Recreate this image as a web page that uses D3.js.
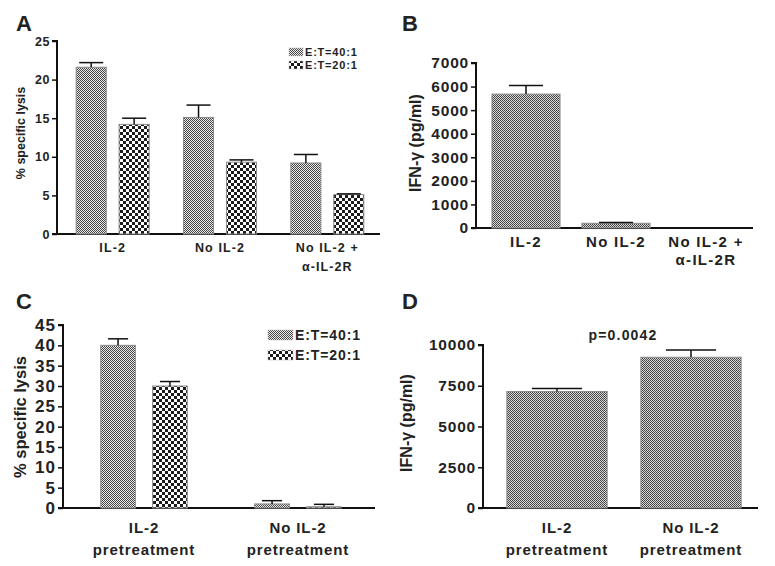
<!DOCTYPE html>
<html><head><meta charset="utf-8">
<script src="https://cdn.jsdelivr.net/npm/d3@7"></script>
<style>
body{margin:0;background:#fff;}
text{font-family:"Liberation Sans",Arial,sans-serif;font-weight:bold;fill:#222;}
</style></head>
<body>
<svg id="chart" width="775" height="566"></svg>
<script>
// ---- data ----
const catsA = ["IL-2", "No IL-2", "No IL-2 +|α-IL-2R"];
const seriesLysis = ["E:T=40:1", "E:T=20:1"];
const lysisA40 = [21.6, 15.1, 9.2];
const errA40 = [0.6, 1.6, 1.1];
const lysisA20 = [14.2, 9.3, 5.1];
const errA20 = [0.8, 0.3, 0.1];
const ticksA = [0, 5, 10, 15, 20, 25];

const catsB = ["IL-2", "No IL-2", "No IL-2 +|α-IL-2R"];
const ifnB = [5680, 200, 0];
const errB = [370, 30, 0];
const ticksB = [0, 1000, 2000, 3000, 4000, 5000, 6000, 7000];

const catsC = ["IL-2|pretreatment", "No IL-2|pretreatment"];
const lysisC40 = [40.0, 1.0];
const errC40 = [1.6, 0.8];
const lysisC20 = [30.0, 0.3];
const errC20 = [1.1, 0.6];
const ticksC = [0, 5, 10, 15, 20, 25, 30, 35, 40, 45];

const catsD = ["IL-2|pretreatment", "No IL-2|pretreatment"];
const ifnD = [7150, 9250];
const errD = [180, 450];
const ticksD = [0, 2500, 5000, 7500, 10000];
const pText = "p=0.0042";

// ---- drawing ----
const svg = d3.select("#chart");
const defs = svg.append("defs");

function pat(id, size, cells, bg) {
  const p = defs.append("pattern").attr("id", id).attr("patternUnits", "userSpaceOnUse")
    .attr("width", size).attr("height", size);
  p.append("rect").attr("width", size).attr("height", size).attr("fill", bg);
  cells.forEach(c => p.append("rect").attr("x", c[0]).attr("y", c[1]).attr("width", c[2]).attr("height", c[2]).attr("fill", c[3]));
}
pat("p40", 2, [[0,0,1,"#444"],[1,1,1,"#444"]], "#ececec");
pat("p20", 6, [[0,0,3,"#1a1a1a"],[3,3,3,"#1a1a1a"]], "#ffffff");
pat("pIFN", 2, [[0,0,1,"#3c3c3c"],[1,1,1,"#4a4a4a"]], "#dcdcdc");

function panel(o) {
  const g = svg.append("g");
  const y = d3.scaleLinear().domain([0, o.ymax]).range([o.y0, o.yTop]);
  const x = d3.scaleBand().domain(o.cats).range(o.xr).paddingInner(0).paddingOuter(0);
  // y axis
  const ax = g.append("g").attr("transform", `translate(${o.axX},0)`)
    .call(d3.axisLeft(y).tickValues(o.ticks).tickSize(5).tickPadding(2).tickFormat(d3.format("d")));
  ax.select(".domain").attr("stroke", "#111").attr("stroke-width", 2).attr("d", `M-5,${o.yTop}H0V${o.y0}`);
  ax.selectAll(".tick line").attr("stroke", "#111").attr("stroke-width", 1.5);
  ax.selectAll(".tick text").attr("font-size", o.tickFs).attr("font-family", null).attr("fill", "#222")
    .style("letter-spacing", o.tickLs + "px");
  // x axis line
  g.append("line").attr("x1", o.axX - 5).attr("x2", o.axEnd).attr("y1", o.y0).attr("y2", o.y0)
    .attr("stroke", "#111").attr("stroke-width", 2);
  // bars
  o.series.forEach((s, si) => {
    const x1 = d3.scaleBand().domain(d3.range(o.series.length)).range([0, x.bandwidth()])
      .paddingInner(o.pin).paddingOuter(o.pout);
    o.cats.forEach((c, i) => {
      const v = s.values[i], e = s.err[i];
      const bx = x(c) + x1(si), bw = x1.bandwidth();
      if (v > 0) {
        g.append("rect").attr("x", bx).attr("y", y(v)).attr("width", bw).attr("height", y(0) - y(v))
          .attr("fill", `url(#${s.pattern})`).attr("stroke", "#8a8a8a").attr("stroke-width", 1);
      }
      if (e > 0) {
        const cx = bx + bw / 2, cw = bw * o.cap;
        g.append("line").attr("x1", cx).attr("x2", cx).attr("y1", y(v)).attr("y2", y(v + e))
          .attr("stroke", "#111").attr("stroke-width", 1.5);
        g.append("line").attr("x1", cx - cw / 2).attr("x2", cx + cw / 2).attr("y1", y(v + e)).attr("y2", y(v + e))
          .attr("stroke", "#111").attr("stroke-width", 1.5);
      }
    });
  });
  // category labels
  o.cats.forEach(c => {
    const lines = c.split("|");
    lines.forEach((l, li) => {
      g.append("text").attr("x", x(c) + x.bandwidth() / 2).attr("y", o.y0 + o.catDy + li * o.catLh)
        .attr("text-anchor", "middle").attr("font-size", o.catFs).style("letter-spacing", o.catLs + "px")
        .text(l);
    });
  });
  // y label
  g.append("text").attr("transform", `translate(${o.ylx},${o.yly}) rotate(-90)`)
    .attr("text-anchor", "middle").attr("font-size", o.ylFs).text(o.ylabel);
  // panel letter
  g.append("text").attr("x", o.letter[0]).attr("y", o.letter[1]).attr("font-size", 22).text(o.letter[2]);
  // legend
  if (o.legend) {
    const L = o.legend;
    o.series.forEach((s, si) => {
      g.append("rect").attr("x", L.x).attr("y", L.y + si * L.dy - L.bh / 2).attr("width", L.bw).attr("height", L.bh)
        .attr("fill", `url(#${s.pattern})`).attr("stroke", "#bbb").attr("stroke-width", 0.5);
      g.append("text").attr("x", L.x + L.bw + 2).attr("y", L.y + si * L.dy).attr("dy", "0.36em")
        .attr("font-size", L.fs).style("letter-spacing", L.ls + "px").text(s.name);
    });
  }
  return {g, x, y};
}

panel({
  cats: catsA, ymax: 25, ticks: ticksA, y0: 234, yTop: 41, axX: 57, axEnd: 380, xr: [59, 381],
  series: [{name: seriesLysis[0], values: lysisA40, err: errA40, pattern: "p40"},
           {name: seriesLysis[1], values: lysisA20, err: errA20, pattern: "p20"}],
  pin: 0.3, pout: 0.4, cap: 0.8, tickFs: 12.5, tickLs: 0.5,
  catFs: 12.5, catLs: 1.1, catDy: 18, catLh: 19,
  ylabel: "% specific lysis", ylx: 25, yly: 133, ylFs: 12.5,
  letter: [16, 31, "A"],
  legend: {x: 289, y: 52, dy: 13, bw: 14, bh: 8, fs: 11, ls: 0.8}
});

panel({
  cats: catsB, ymax: 7000, ticks: ticksB, y0: 228, yTop: 63, axX: 476, axEnd: 753, xr: [481, 751],
  series: [{name: "IFN", values: ifnB, err: errB, pattern: "pIFN"}],
  pin: 0, pout: 0.161, cap: 0.5, tickFs: 15.5, tickLs: 0.8,
  catFs: 15, catLs: 1.3, catDy: 19, catLh: 18,
  ylabel: "IFN-γ (pg/ml)", ylx: 421, yly: 143, ylFs: 16,
  letter: [402, 31, "B"]
});

panel({
  cats: catsC, ymax: 45, ticks: ticksC, y0: 508, yTop: 325, axX: 63, axEnd: 375, xr: [67, 375],
  series: [{name: seriesLysis[0], values: lysisC40, err: errC40, pattern: "p40"},
           {name: seriesLysis[1], values: lysisC20, err: errC20, pattern: "p20"}],
  pin: 0.333, pout: 0.65, cap: 0.58, tickFs: 17, tickLs: 1,
  catFs: 15, catLs: 0.9, catDy: 25, catLh: 22,
  ylabel: "% specific lysis", ylx: 26, yly: 417, ylFs: 16.5,
  letter: [16, 309, "C"],
  legend: {x: 268, y: 335, dy: 20, bw: 25, bh: 10, fs: 14, ls: 0.9}
});

const pd = panel({
  cats: catsD, ymax: 10000, ticks: ticksD, y0: 508, yTop: 345, axX: 483, axEnd: 758, xr: [490, 758],
  series: [{name: "IFN", values: ifnD, err: errD, pattern: "pIFN"}],
  pin: 0, pout: 0.168, cap: 0.5, tickFs: 15.5, tickLs: 0.8,
  catFs: 15, catLs: 0.9, catDy: 25, catLh: 22,
  ylabel: "IFN-γ (pg/ml)", ylx: 412, yly: 423, ylFs: 16,
  letter: [402, 309, "D"]
});
pd.g.append("text").attr("x", 623).attr("y", 340).attr("text-anchor", "middle")
  .attr("font-size", 14).style("letter-spacing", "1.2px").text(pText);
</script>
</body></html>
